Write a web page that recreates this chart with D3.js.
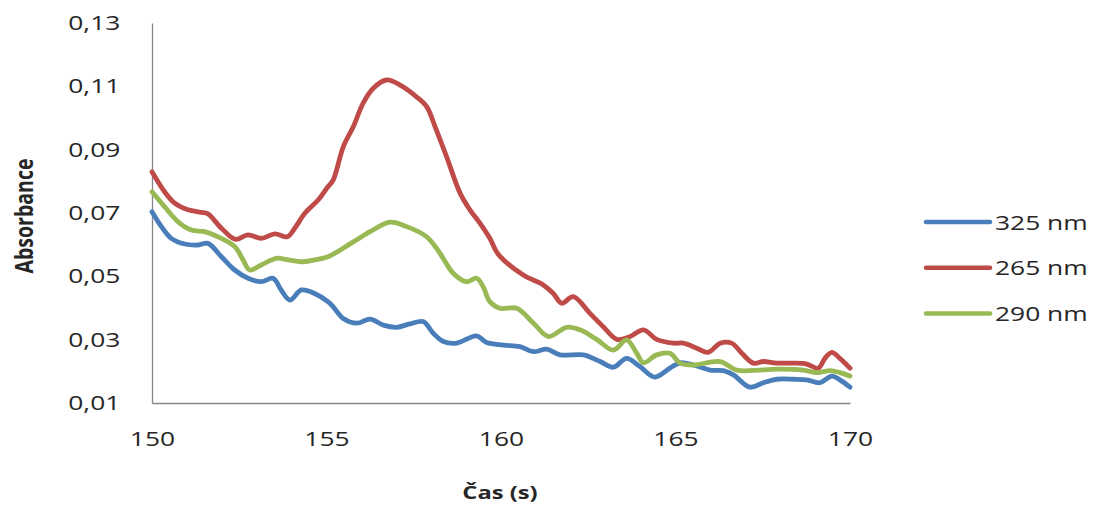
<!DOCTYPE html>
<html>
<head>
<meta charset="utf-8">
<script src="https://cdn.jsdelivr.net/npm/d3@7/dist/d3.min.js"></script>
<style>
  html, body { margin: 0; padding: 0; background: #fff; }
  svg { display: block; font-family: "Open Sans", sans-serif; }
</style>
</head>
<body>
<svg id="chart" width="1097" height="506"></svg>
<script>
// Time (s) and absorbance readings for each wavelength
const time325 = [150.0, 150.27, 150.55, 150.94, 151.32, 151.60, 151.99, 152.37, 152.75, 153.13, 153.47, 153.70, 153.95, 154.28, 154.66, 155.04, 155.19, 155.48, 155.87, 156.25, 156.63, 157.01, 157.39, 157.77, 158.06, 158.35, 158.73, 159.30, 159.59, 160.07, 160.54, 160.93, 161.31, 161.69, 162.36, 162.84, 163.22, 163.60, 163.98, 164.41, 164.84, 165.13, 165.51, 165.99, 166.37, 166.66, 167.13, 167.52, 167.90, 168.38, 168.76, 169.14, 169.48, 169.71, 170.0];
const abs325 = [0.0704, 0.0657, 0.0620, 0.0602, 0.0599, 0.0604, 0.0562, 0.0520, 0.0494, 0.0483, 0.0494, 0.0457, 0.0425, 0.0457, 0.0446, 0.0420, 0.0404, 0.0367, 0.0352, 0.0365, 0.0346, 0.0339, 0.0350, 0.0357, 0.0320, 0.0294, 0.0289, 0.0312, 0.0291, 0.0283, 0.0278, 0.0262, 0.0270, 0.0252, 0.0252, 0.0231, 0.0213, 0.0241, 0.0215, 0.0182, 0.0210, 0.0227, 0.0220, 0.0204, 0.0202, 0.0189, 0.0150, 0.0164, 0.0175, 0.0175, 0.0173, 0.0164, 0.0185, 0.0173, 0.0150];

const time265 = [150.0, 150.36, 150.65, 151.03, 151.41, 151.60, 151.99, 152.39, 152.75, 153.13, 153.52, 153.88, 154.09, 154.38, 154.76, 155.04, 155.19, 155.48, 155.77, 156.05, 156.34, 156.72, 157.11, 157.58, 157.87, 158.11, 158.44, 158.83, 159.11, 159.40, 159.68, 159.92, 160.64, 161.21, 161.50, 161.74, 162.07, 162.55, 162.93, 163.32, 163.70, 164.08, 164.46, 164.94, 165.22, 165.61, 165.94, 166.28, 166.61, 166.90, 167.23, 167.52, 167.90, 168.38, 168.76, 169.09, 169.28, 169.48, 169.71, 170.0];
const abs265 = [0.0830, 0.0767, 0.0731, 0.0710, 0.0702, 0.0697, 0.0652, 0.0617, 0.0631, 0.0620, 0.0634, 0.0625, 0.0652, 0.0699, 0.0741, 0.0783, 0.0804, 0.0909, 0.0973, 0.1047, 0.1094, 0.1120, 0.1104, 0.1067, 0.1036, 0.0973, 0.0878, 0.0762, 0.0710, 0.0667, 0.0620, 0.0570, 0.0504, 0.0473, 0.0446, 0.0415, 0.0436, 0.0383, 0.0341, 0.0301, 0.0310, 0.0331, 0.0301, 0.0289, 0.0289, 0.0273, 0.0260, 0.0289, 0.0289, 0.0257, 0.0226, 0.0231, 0.0226, 0.0226, 0.0223, 0.0210, 0.0241, 0.0260, 0.0241, 0.0210];

const time290 = [150.0, 150.36, 150.74, 151.13, 151.51, 151.89, 152.37, 152.61, 152.80, 153.13, 153.56, 153.90, 154.28, 154.66, 155.04, 155.77, 156.25, 156.82, 157.30, 157.87, 158.25, 158.63, 159.02, 159.30, 159.49, 159.68, 159.97, 160.45, 160.93, 161.36, 161.88, 162.26, 162.74, 163.22, 163.60, 163.89, 164.08, 164.46, 164.84, 165.13, 165.51, 166.28, 166.75, 167.42, 167.90, 168.66, 169.05, 169.43, 169.71, 170.0];
const abs290 = [0.0767, 0.0720, 0.0673, 0.0646, 0.0641, 0.0625, 0.0594, 0.0552, 0.0520, 0.0536, 0.0557, 0.0552, 0.0546, 0.0552, 0.0562, 0.0609, 0.0641, 0.0671, 0.0657, 0.0625, 0.0573, 0.0510, 0.0483, 0.0494, 0.0467, 0.0420, 0.0399, 0.0399, 0.0352, 0.0310, 0.0339, 0.0331, 0.0301, 0.0267, 0.0299, 0.0257, 0.0227, 0.0252, 0.0257, 0.0226, 0.0220, 0.0231, 0.0204, 0.0204, 0.0207, 0.0204, 0.0196, 0.0202, 0.0196, 0.0185];

const seriesNames = ["325 nm", "265 nm", "290 nm"];
const seriesColors = ["#4A7EBB", "#BE4B48", "#98B954"];
const xTicks = [150, 155, 160, 165, 170];
const yTicks = [0.01, 0.03, 0.05, 0.07, 0.09, 0.11, 0.13];
const xTitle = "Čas (s)";
const yTitle = "Absorbance";

const series = [
  { name: seriesNames[0], color: seriesColors[0], t: time325, v: abs325 },
  { name: seriesNames[1], color: seriesColors[1], t: time265, v: abs265 },
  { name: seriesNames[2], color: seriesColors[2], t: time290, v: abs290 }
];

const svg = d3.select("#chart");
const plot = { left: 152, right: 850, top: 23, bottom: 403 };
const stretch = 1.32; // horizontal widening of the lettering

const x = d3.scaleLinear().domain([150, 170]).range([plot.left, plot.right]);
const y = d3.scaleLinear().domain([0.01, 0.13]).range([plot.bottom, plot.top]);

const locale = d3.formatLocale({ decimal: ",", thousands: " ", grouping: [3], currency: ["", ""] });
const fmtY = locale.format(".2f");

// Axes
const yAxis = svg.append("g")
  .attr("transform", `translate(${plot.left},0)`)
  .call(d3.axisLeft(y).tickValues(yTicks).tickFormat(fmtY).tickSizeInner(0).tickSizeOuter(0).tickPadding(24));
const xAxis = svg.append("g")
  .attr("transform", `translate(0,${plot.bottom})`)
  .call(d3.axisBottom(x).tickValues(xTicks).tickFormat(d3.format("d")).tickSizeInner(0).tickSizeOuter(0).tickPadding(29));

[yAxis, xAxis].forEach(g => {
  g.select(".domain").attr("stroke", "#868686").attr("stroke-width", 1.3);
  g.selectAll(".tick text")
    .attr("fill", "#262626")
    .style("font-size", "20px")
    .style("font-family", "'Open Sans', sans-serif")
    .attr("transform", `scale(${stretch},1)`);
});

// Series lines
const line = d3.line()
  .x(d => x(d[0]))
  .y(d => y(d[1]))
  .curve(d3.curveCatmullRom.alpha(0.5));

svg.append("g").selectAll("path")
  .data(series)
  .join("path")
  .attr("d", s => line(s.t.map((t, i) => [t, s.v[i]])))
  .attr("fill", "none")
  .attr("stroke", s => s.color)
  .attr("stroke-width", 4.8)
  .attr("stroke-linejoin", "round")
  .attr("stroke-linecap", "round");

// Axis titles
svg.append("text")
  .attr("transform", `translate(500,492) scale(${stretch},1)`)
  .attr("text-anchor", "middle")
  .attr("dominant-baseline", "central")
  .attr("fill", "#262626")
  .style("font-size", "18px")
  .style("font-weight", "bold")
  .text(xTitle);

svg.append("text")
  .attr("transform", `translate(23,216) rotate(-90) scale(1,${stretch})`)
  .attr("text-anchor", "middle")
  .attr("dominant-baseline", "central")
  .attr("fill", "#262626")
  .style("font-size", "19.5px")
  .style("font-weight", "bold")
  .text(yTitle);

// Legend
const legend = svg.append("g").attr("transform", "translate(926,222)");
const item = legend.selectAll("g")
  .data(series)
  .join("g")
  .attr("transform", (d, i) => `translate(0,${i * 45.8})`);
item.append("line")
  .attr("x1", 0).attr("x2", 64)
  .attr("stroke", d => d.color)
  .attr("stroke-width", 4.5)
  .attr("stroke-linecap", "round");
item.append("text")
  .attr("transform", `translate(69,0) scale(${stretch},1)`)
  .attr("dominant-baseline", "central")
  .attr("fill", "#262626")
  .style("font-size", "20px")
  .text(d => d.name);
</script>
</body>
</html>
